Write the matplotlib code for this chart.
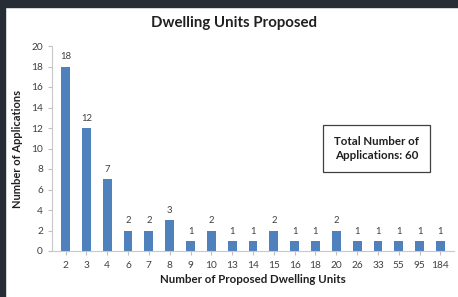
import numpy as np
import matplotlib
matplotlib.use("Agg")
import matplotlib.pyplot as plt
from matplotlib.patches import Rectangle

# data
units = ["2", "3", "4", "6", "7", "8", "9", "10", "13", "14", "15",
         "16", "18", "20", "26", "33", "55", "95", "184"]
applications = [18, 12, 7, 2, 2, 3, 1, 2, 1, 1, 2, 1, 1, 2, 1, 1, 1, 1, 1]
total_text = "Total Number of\nApplications: 60"

plt.rcParams["font.family"] = ["Lato", "DejaVu Sans"]

W, H = 458, 297
fig = plt.figure(figsize=(W / 100, H / 100), dpi=100)
fig.patch.set_facecolor("white")

# dark frame at top and left
fig.patches.append(Rectangle((0, 1 - 7 / H), 1, 7 / H, transform=fig.transFigure,
                             color="#272d35", zorder=0))
fig.patches.append(Rectangle((0, 0), 5 / W, 1, transform=fig.transFigure,
                             color="#272d35", zorder=0))

ax = fig.add_axes([52 / W, 1 - 251 / H, 402 / W, 205 / H])
x = np.arange(len(units))
ax.bar(x, applications, width=0.42, color="#4f81bd", zorder=2)

for xi, v in zip(x, applications):
    ax.text(xi, v + 0.5, str(v), ha="center", va="bottom", fontsize=6.8,
            color="#404040")

ax.set_xlim(-0.65, len(units) - 0.35)
ax.set_ylim(0, 20)
ax.set_yticks(range(0, 21, 2))
ax.set_xticks(x)
ax.set_xticklabels(units)
ax.tick_params(axis="both", labelsize=7.3, colors="#c0c0c0", labelcolor="#404040",
               length=3, width=0.8)
ax.tick_params(axis="x", pad=4)

for side in ["top", "right"]:
    ax.spines[side].set_visible(False)
ax.spines["left"].set_color("#c8c8c8")
ax.spines["bottom"].set_color("#c8c8c8")

ax.set_xlabel("Number of Proposed Dwelling Units", fontsize=8.3,
              fontweight="bold", color="#202020", labelpad=3)
ax.set_ylabel("Number of Applications", fontsize=8.0, fontweight="bold",
              color="#202020", labelpad=6)

fig.text(0.51, 1 - 23 / H, "Dwelling Units Proposed", ha="center", va="center",
         fontsize=10.8, fontweight="bold", color="#202020")

ax.text(0.808, 0.5, total_text, transform=ax.transAxes, ha="center",
        va="center", fontsize=8.3, fontweight="bold", color="#202020",
        linespacing=1.35,
        bbox=dict(boxstyle="square,pad=0.95", fc="white", ec="#404040", lw=0.9))

fig.savefig("out.png", dpi=100)
